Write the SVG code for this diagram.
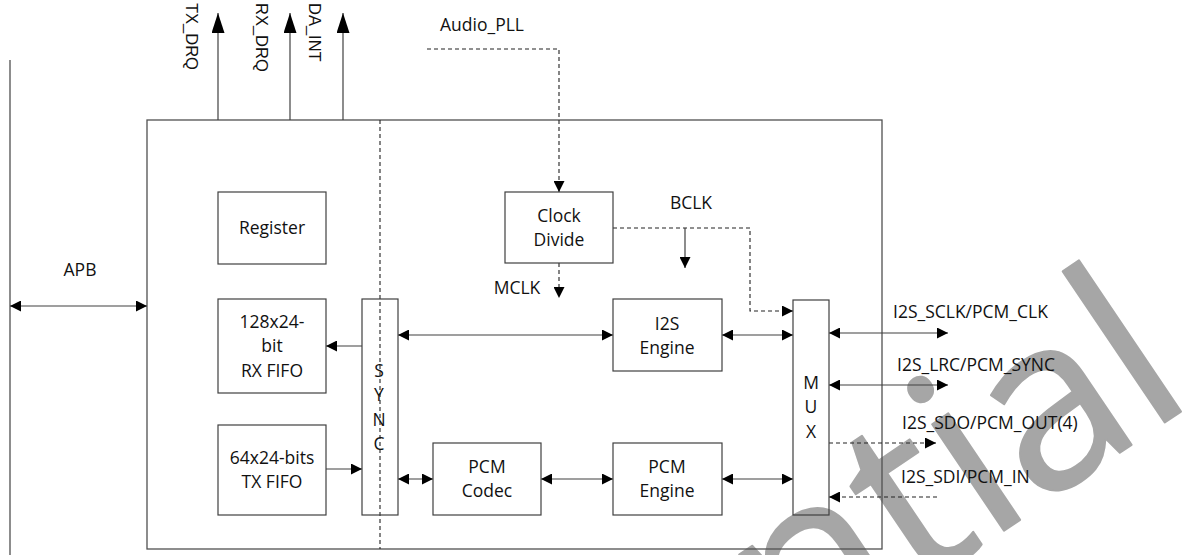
<svg xmlns="http://www.w3.org/2000/svg" width="1187" height="555" viewBox="0 0 1187 555">
<style>
.box{fill:#fff;stroke:#404040;stroke-width:1.2}
.outer{fill:none;stroke:#505050;stroke-width:1.3}
.ln{fill:none;stroke:#404040;stroke-width:1.2}
.ds{fill:none;stroke:#222;stroke-width:1.1;stroke-dasharray:4,3}
.t{font-family:"Open Sans","Liberation Sans",sans-serif;font-size:17.5px;fill:#111}
.c{text-anchor:middle}
.v{font-family:"Liberation Sans",Arial,sans-serif;font-size:16.5px;fill:#111}
.wm{font-family:"Open Sans","Liberation Sans",sans-serif;font-size:240px;fill:#a6a6a6;stroke:#a6a6a6;stroke-width:2;stroke-linejoin:round}
</style>
<defs>
<marker id="ah" viewBox="0 0 11 11" refX="11" refY="5.5" markerWidth="11" markerHeight="11" markerUnits="userSpaceOnUse" orient="auto-start-reverse">
<path d="M0,0 L11,5.5 L0,11 z" fill="#000"/>
</marker>
<marker id="up" viewBox="0 0 20 13" refX="20" refY="6.5" markerWidth="20" markerHeight="13" markerUnits="userSpaceOnUse" orient="auto">
<path d="M0,0 L20,6.5 L0,13 z" fill="#000"/>
</marker>
</defs>
<rect width="1187" height="555" fill="#fff"/>
<text class="wm" transform="translate(1198,400) rotate(-34)" text-anchor="end">Confidential</text>

<g id="bus-left"><path class="ln" d="M10,60 V555" stroke="#000"/></g>
<g id="outer-block">
<rect class="outer" x="147" y="120" width="735" height="429"/>
<path class="ds" d="M380,120 V549"/>
</g>

<g id="connectors">
<path class="ln" d="M10,306 H147" marker-start="url(#ah)" marker-end="url(#ah)"/>
<path class="ln" d="M218,120 V13" marker-end="url(#up)"/>
<path class="ln" d="M290,120 V13" marker-end="url(#up)"/>
<path class="ln" d="M343,120 V13" marker-end="url(#up)"/>
<path class="ds" d="M427,49 H559 V192" marker-end="url(#ah)"/>
<path class="ds" d="M559,263 V298" marker-end="url(#ah)"/>
<path class="ds" d="M613,228 H750 V311 H793" marker-end="url(#ah)"/>
<path class="ln" d="M685,228 V268" marker-end="url(#ah)"/>
<path class="ln" d="M362,346 H326" marker-end="url(#ah)"/>
<path class="ln" d="M326,469 H362" marker-end="url(#ah)"/>
<path class="ln" d="M398,335 H613" marker-start="url(#ah)" marker-end="url(#ah)"/>
<path class="ln" d="M398,479 H433" marker-start="url(#ah)" marker-end="url(#ah)"/>
<path class="ln" d="M541,479 H613" marker-start="url(#ah)" marker-end="url(#ah)"/>
<path class="ln" d="M722,335 H793" marker-start="url(#ah)" marker-end="url(#ah)"/>
<path class="ln" d="M722,479 H793" marker-start="url(#ah)" marker-end="url(#ah)"/>
<path class="ln" d="M829,333 H948" marker-start="url(#ah)" marker-end="url(#ah)"/>
<path class="ln" d="M829,385 H948" marker-start="url(#ah)" marker-end="url(#ah)"/>
<path class="ds" d="M829,443 H936" marker-end="url(#ah)"/>
<path class="ds" d="M937,497 H829" marker-end="url(#ah)"/>
</g>

<g id="labels">
<text class="t c" x="80" y="276">APB</text>
<text class="t c" x="482" y="31">Audio_PLL</text>
<text class="t c" x="691" y="209">BCLK</text>
<text class="t c" x="517" y="294">MCLK</text>
<text class="v" transform="translate(186,3) rotate(90)">TX_DRQ</text>
<text class="v" transform="translate(256,3) rotate(90)">RX_DRQ</text>
<text class="v" transform="translate(309,3) rotate(90)">DA_INT</text>
<text class="t" x="893" y="318">I2S_SCLK/PCM_CLK</text>
<text class="t" x="897" y="371">I2S_LRC/PCM_SYNC</text>
<text class="t" x="902" y="429">I2S_SDO/PCM_OUT(4)</text>
<text class="t" x="901" y="483">I2S_SDI/PCM_IN</text>
</g>

<g id="register">
<rect class="box" x="218" y="192" width="108" height="72"/>
<text class="t c" x="272" y="234">Register</text>
</g>
<g id="rx-fifo">
<rect class="box" x="218" y="299" width="108" height="94"/>
<text class="t c" x="272" y="328">128x24-</text>
<text class="t c" x="272" y="352">bit</text>
<text class="t c" x="272" y="377">RX FIFO</text>
</g>
<g id="tx-fifo">
<rect class="box" x="218" y="425" width="108" height="90"/>
<text class="t c" x="272" y="464">64x24-bits</text>
<text class="t c" x="272" y="488">TX FIFO</text>
</g>
<g id="sync">
<rect class="box" x="362" y="299" width="36" height="216" style="fill:none"/>
<text class="t c" x="379" y="377">S</text>
<text class="t c" x="379" y="401">Y</text>
<text class="t c" x="379" y="426">N</text>
<text class="t c" x="379" y="450">C</text>
</g>
<g id="clock-divide">
<rect class="box" x="505" y="192" width="108" height="71"/>
<text class="t c" x="559" y="222">Clock</text>
<text class="t c" x="559" y="246">Divide</text>
</g>
<g id="i2s-engine">
<rect class="box" x="613" y="299" width="109" height="72"/>
<text class="t c" x="667" y="330">I2S</text>
<text class="t c" x="667" y="354">Engine</text>
</g>
<g id="pcm-codec">
<rect class="box" x="433" y="443" width="108" height="72"/>
<text class="t c" x="487" y="473">PCM</text>
<text class="t c" x="487" y="497">Codec</text>
</g>
<g id="pcm-engine">
<rect class="box" x="613" y="443" width="109" height="72"/>
<text class="t c" x="667" y="473">PCM</text>
<text class="t c" x="667" y="497">Engine</text>
</g>
<g id="mux">
<rect class="box" x="793" y="300" width="36" height="215" style="fill:none"/>
<text class="t c" x="811" y="389">M</text>
<text class="t c" x="811" y="413">U</text>
<text class="t c" x="811" y="438">X</text>
</g>
</svg>
